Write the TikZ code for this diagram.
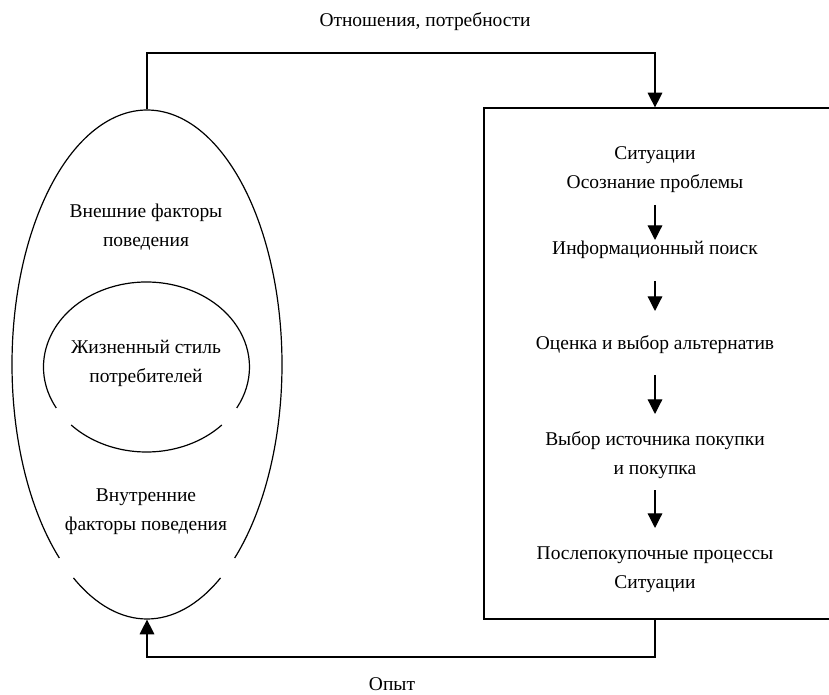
\documentclass[tikz,border=0pt]{standalone}
\usepackage{fontspec}
\setmainfont{Liberation Serif}
\usetikzlibrary{arrows.meta,shapes.geometric,calc}
\begin{document}
\begin{tikzpicture}[x=0.75pt,y=-0.75pt,
  line width=0.9pt,
  lbl/.style={font=\fontsize{14.6}{21.75}\selectfont, align=center, inner sep=0pt},
  arr/.style={-{Triangle[width=11pt,length=11pt]}},
  boxstyle/.style={draw, rectangle, minimum width=351*0.75pt, minimum height=511*0.75pt, inner sep=0pt},
  ghost/.style={ellipse, draw=none, inner sep=0pt}]
\useasboundingbox (0,0) rectangle (829,695);
\clip (0,0) rectangle (829,695);
% outer ellipse (gapped)
\node[ghost, minimum width=270*0.75pt, minimum height=509*0.75pt] (outer) at (147,364.5) {};
\draw (147,364.5) ++(130.5:135 and 254.5) arc[start angle=130.5, end angle=409.5, x radius=135, y radius=254.5];
\draw (147,364.5) ++(57:135 and 254.5) arc[start angle=57, end angle=123, x radius=135, y radius=254.5];
% inner ellipse (gapped)
\node[ghost, minimum width=206*0.75pt, minimum height=170*0.75pt] (inner) at (146.5,367) {};
\draw (146.5,367) ++(151.2:103 and 85) arc[start angle=151.2, end angle=388.8, x radius=103, y radius=85];
\draw (146.5,367) ++(43:103 and 85) arc[start angle=43, end angle=137, x radius=103, y radius=85];
% left texts
\node[lbl] (ext) at (146,227) {Внешние факторы\\поведения};
\node[lbl] (life) at (146,363) {Жизненный стиль\\потребителей};
\node[lbl] (int) at (146,512) {Внутренние\\факторы поведения};
% right box
\node[boxstyle] (box) at (659.5,363.5) {};
\node[lbl] (s1) at (655,170) {Ситуации\\Осознание проблемы};
\node[lbl] (s2) at (655,250) {Информационный поиск};
\node[lbl] (s3) at (655,345) {Оценка и выбор альтернатив};
\node[lbl] (s4) at (655,455) {Выбор источника покупки\\и покупка};
\node[lbl] (s5) at (655,570) {Послепокупочные процессы\\Ситуации};
\coordinate (a1s) at (655,205); \coordinate (a1e) at (655,240);
\coordinate (a2s) at (655,281); \coordinate (a2e) at (655,311);
\coordinate (a3s) at (655,375); \coordinate (a3e) at (655,414);
\coordinate (a4s) at (655,490); \coordinate (a4e) at (655,528);
\draw[arr] (a1s) -- (a1e);
\draw[arr] (a2s) -- (a2e);
\draw[arr] (a3s) -- (a3e);
\draw[arr] (a4s) -- (a4e);
% connectors
\coordinate (ctop) at (655,53);
\coordinate (cbot) at (655,657);
\draw[arr] (outer.north) |- (ctop) -- (ctop |- box.north);
\draw[arr] (cbot |- box.south) -- (cbot) -| (outer.south);
\node[lbl] (rel) at (425,22) {Отношения, потребности};
\node[lbl] (exp) at (392,684) {Опыт};
\end{tikzpicture}
\end{document}
